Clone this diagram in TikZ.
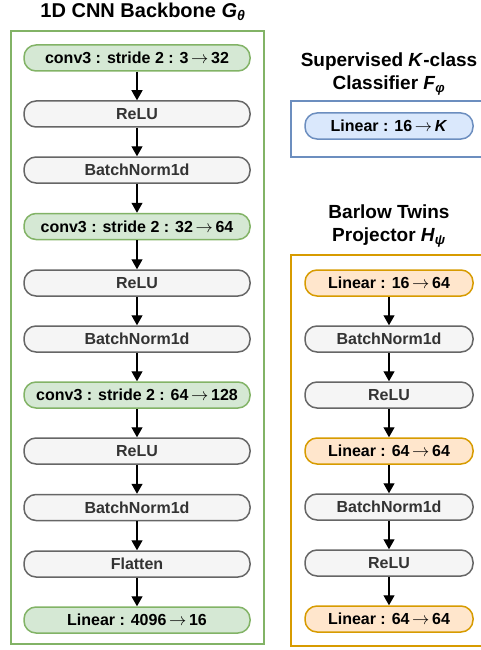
\documentclass[tikz,border=0pt]{standalone}
\usepackage{fontspec}
\setmainfont{Liberation Sans}
\usetikzlibrary{arrows.meta,positioning}
\definecolor{greenfill}{HTML}{D5E8D4}
\definecolor{greenline}{HTML}{82B366}
\definecolor{bluefill}{HTML}{DAE8FC}
\definecolor{blueline}{HTML}{6C8EBF}
\definecolor{orangefill}{HTML}{FFE6CC}
\definecolor{orangeline}{HTML}{D79B00}
\definecolor{grayfill}{HTML}{F5F5F5}
\definecolor{grayline}{HTML}{666666}
\definecolor{graytext}{HTML}{333333}
\newcommand{\tto}{\,$\rightarrow$\,}
\tikzset{
    >={Triangle[width=11pt,length=10pt]},
    layer/.style={rectangle,rounded corners=12pt,draw,line width=1.5pt,minimum height=26pt,inner sep=0pt,font=\bfseries\fontsize{16}{18}\selectfont},
    wide/.style={minimum width=226pt},
    narrow/.style={minimum width=168pt},
    convlayer/.style={layer,fill=greenfill,draw=greenline},
    linlayer/.style={layer,fill=orangefill,draw=orangeline},
    headlayer/.style={layer,fill=bluefill,draw=blueline},
    oplayer/.style={layer,fill=grayfill,draw=grayline,text=graytext},
    group/.style={draw,line width=1.5pt},
    title/.style={font=\bfseries\fontsize{19}{22.5}\selectfont,align=center},
    flow/.style={->,line width=1.3pt}
}

\begin{document}
\begin{tikzpicture}[x=1pt,y=-1pt]
        \useasboundingbox (0,0) rectangle (480,650);

        % Containers
        \draw[group,draw=greenline] (11,31) rectangle (264,644);
        \draw[group,draw=blueline] (291,101) rectangle (500,157);
        \draw[group,draw=orangeline] (291,255) rectangle (500,646);

        % Titles
        \node[title,font=\bfseries\fontsize{20}{24}\selectfont] (tbackbone) at (143,12) {1D CNN Backbone \textit{G}\textsubscript{\textit{θ}}};
        \node[title] (tclassifier) at (389,74) {Supervised \textit{K}-class\\Classifier \textit{F}\textsubscript{\textit{φ}}};
        \node[title] (tprojector) at (389,226) {Barlow Twins\\Projector \textit{H}\textsubscript{\textit{ψ}}};

        % Backbone
        \node[convlayer,wide] (b1) at (137,58) {conv3 : stride 2 : 3\tto32};
        \node[oplayer,wide] (b2) at (137,114) {ReLU};
        \node[oplayer,wide] (b3) at (137,170) {BatchNorm1d};
        \node[convlayer,wide] (b4) at (137,226.5) {conv3 : stride 2 : 32\tto64};
        \node[oplayer,wide] (b5) at (137,283) {ReLU};
        \node[oplayer,wide] (b6) at (137,339) {BatchNorm1d};
        \node[convlayer,wide] (b7) at (137,395) {conv3 : stride 2 : 64\tto128};
        \node[oplayer,wide] (b8) at (137,451) {ReLU};
        \node[oplayer,wide] (b9) at (137,507.5) {BatchNorm1d};
        \node[oplayer,wide] (b10) at (137,564) {Flatten};
        \node[convlayer,wide] (b11) at (137,620) {Linear : 4096\tto16};

        \draw[flow] (b1) -- (b2);
        \draw[flow] (b2) -- (b3);
        \draw[flow] (b3) -- (b4);
        \draw[flow] (b4) -- (b5);
        \draw[flow] (b5) -- (b6);
        \draw[flow] (b6) -- (b7);
        \draw[flow] (b7) -- (b8);
        \draw[flow] (b8) -- (b9);
        \draw[flow] (b9) -- (b10);
        \draw[flow] (b10) -- (b11);

        % Classifier
        \node[headlayer,narrow] (c1) at (389,126) {Linear : 16\tto\textit{K}};

        % Projector
        \node[linlayer,narrow] (p1) at (389,283) {Linear : 16\tto64};
        \node[oplayer,narrow] (p2) at (389,339) {BatchNorm1d};
        \node[oplayer,narrow] (p3) at (389,395) {ReLU};
        \node[linlayer,narrow] (p4) at (389,451) {Linear : 64\tto64};
        \node[oplayer,narrow] (p5) at (389,507) {BatchNorm1d};
        \node[oplayer,narrow] (p6) at (389,563) {ReLU};
        \node[linlayer,narrow] (p7) at (389,619) {Linear : 64\tto64};

        \draw[flow] (p1) -- (p2);
        \draw[flow] (p2) -- (p3);
        \draw[flow] (p3) -- (p4);
        \draw[flow] (p4) -- (p5);
        \draw[flow] (p5) -- (p6);
        \draw[flow] (p6) -- (p7);
    \end{tikzpicture}
\end{document}
